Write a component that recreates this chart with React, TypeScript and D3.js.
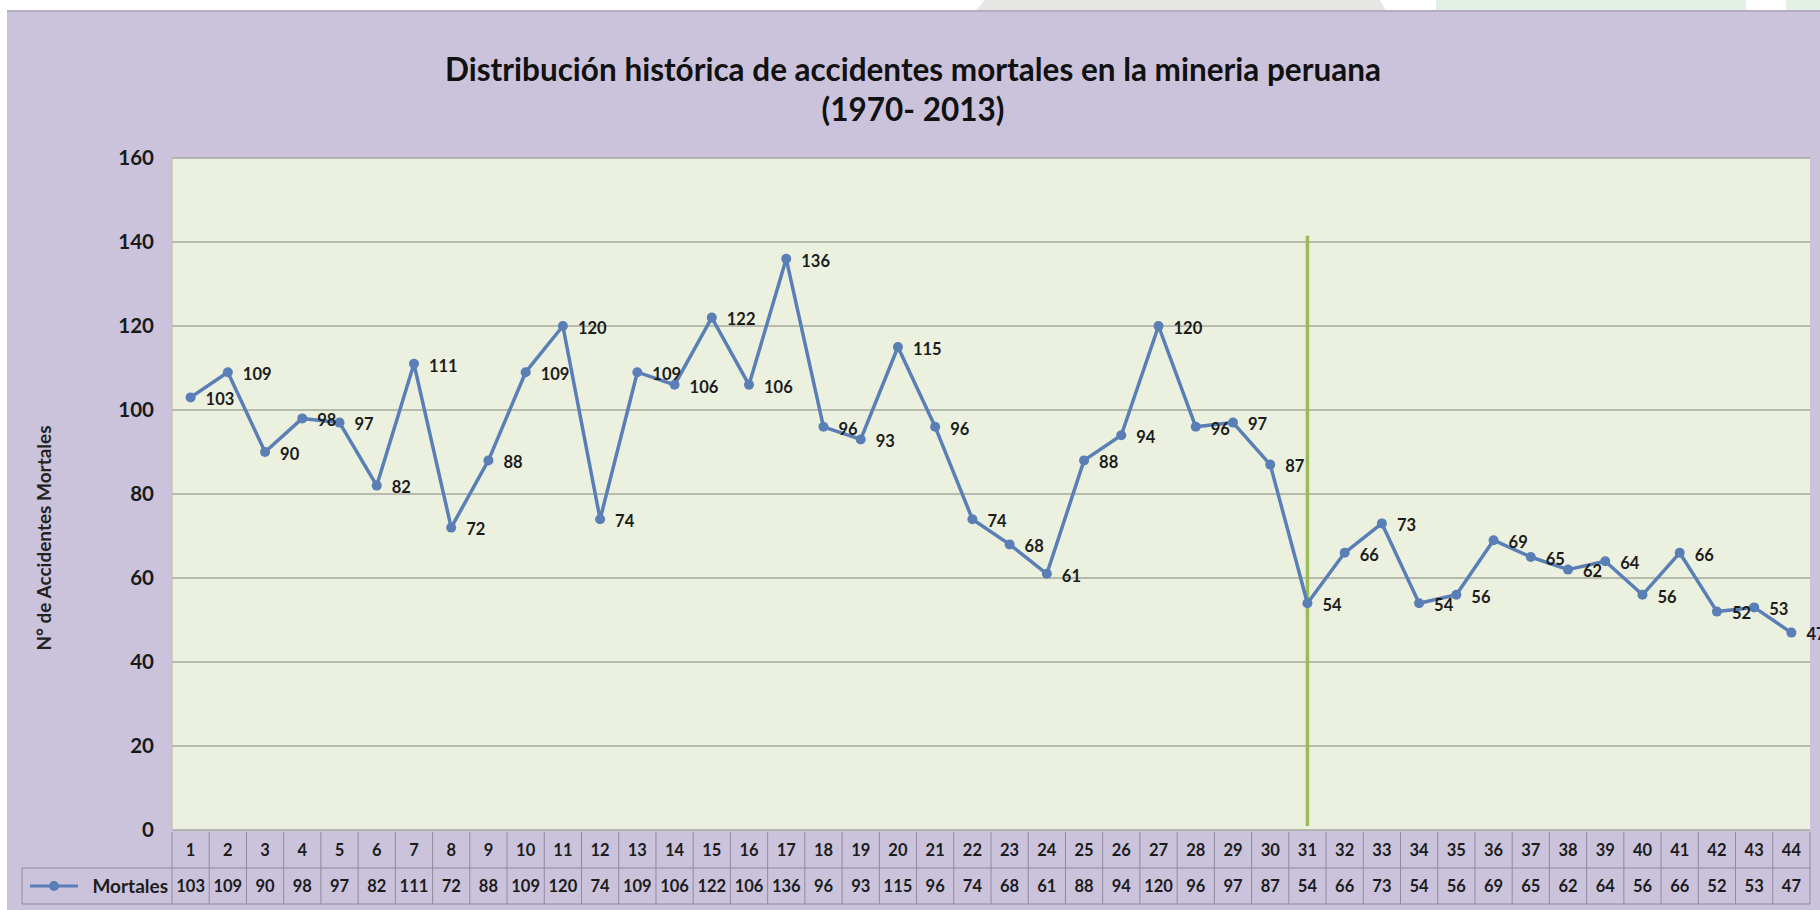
import React from "react";
import * as d3 from "d3";

// Datos del gráfico
const categories = [
  1, 2, 3, 4, 5, 6, 7, 8, 9, 10, 11, 12, 13, 14, 15, 16, 17, 18, 19, 20, 21, 22,
  23, 24, 25, 26, 27, 28, 29, 30, 31, 32, 33, 34, 35, 36, 37, 38, 39, 40, 41, 42,
  43, 44,
];
const mortales = [
  103, 109, 90, 98, 97, 82, 111, 72, 88, 109, 120, 74, 109, 106, 122, 106, 136,
  96, 93, 115, 96, 74, 68, 61, 88, 94, 120, 96, 97, 87, 54, 66, 73, 54, 56, 69,
  65, 62, 64, 56, 66, 52, 53, 47,
];
const yTicks = [0, 20, 40, 60, 80, 100, 120, 140, 160];
const seriesName = "Mortales";
const titleLines = [
  "Distribución histórica de accidentes mortales en la mineria peruana",
  "(1970- 2013)",
];
const yAxisTitle = "N° de Accidentes Mortales";
const markerCategory = 31;
const markerTopValue = 141.5;

const W = 1820;
const H = 910;
const FONT = "Lato, 'Open Sans', sans-serif";

const App = () => {
  const plot = { left: 172, right: 1810, top: 158, bottom: 830 };
  const rowH = 36;

  const x = d3
    .scaleBand<number>()
    .domain(categories)
    .range([plot.left, plot.right]);
  const y = d3.scaleLinear().domain([0, 160]).range([plot.bottom, plot.top]);
  const cx = (c: number) => (x(c) ?? 0) + x.bandwidth() / 2;

  const line = d3
    .line<number>()
    .x((_, i) => cx(categories[i]))
    .y((d) => y(d));

  const lineColor = "#5a7fb6";
  const tableTop = plot.bottom + 2;
  const row2Top = tableTop + rowH;
  const row2Bottom = row2Top + rowH;
  const legendLeft = 22;

  return (
    <svg
      width={W}
      height={H}
      style={{ position: "absolute", left: 0, top: 0, display: "block" }}
      fontFamily={FONT}
    >
      {/* fondo de la diapositiva */}
      <rect x={0} y={0} width={W} height={H} fill="#ffffff" />
      <polygon points="985,0 1380,0 1386,11 975,11" fill="#e6e6e4" />
      <rect x={1436} y={0} width={310} height={11} fill="#e2efe4" />
      <rect x={1786} y={0} width={34} height={11} fill="#e2efe4" />

      {/* marco del gráfico */}
      <rect x={7} y={10} width={W - 7} height={H - 10} fill="#cbc3dc" />
      <line x1={7} x2={W} y1={11} y2={11} stroke="#b4adc2" strokeWidth={2} />

      {/* título */}
      {titleLines.map((t, i) => (
        <text
          key={i}
          x={913}
          y={81 + i * 40}
          textAnchor="middle"
          fontSize={31.5}
          fontWeight={700}
          fill="#111111"
        >
          {t}
        </text>
      ))}

      {/* área de trazado */}
      <rect
        x={plot.left}
        y={plot.top}
        width={plot.right - plot.left}
        height={plot.bottom - plot.top}
        fill="#ebf1de"
      />
      {yTicks.map((t) => (
        <line
          key={t}
          x1={plot.left}
          x2={plot.right}
          y1={y(t)}
          y2={y(t)}
          stroke="#a4a99c"
          strokeWidth={1.6}
        />
      ))}
      <line
        x1={plot.left}
        x2={plot.left}
        y1={plot.top}
        y2={plot.bottom}
        stroke="#b8b8b0"
        strokeWidth={1}
      />

      {/* etiquetas del eje Y */}
      {yTicks.map((t) => (
        <text
          key={t}
          x={154}
          y={y(t)}
          dy="0.35em"
          textAnchor="end"
          fontSize={20.5}
          fontWeight={700}
          fill="#1a1a1a"
        >
          {t}
        </text>
      ))}
      <text
        transform={`translate(44,${538}) rotate(-90)`}
        textAnchor="middle"
        dy="0.35em"
        fontSize={19}
        fontWeight={700}
        fill="#222222"
      >
        {yAxisTitle}
      </text>

      {/* línea vertical de referencia */}
      <line
        x1={cx(markerCategory)}
        x2={cx(markerCategory)}
        y1={y(markerTopValue)}
        y2={plot.bottom - 4}
        stroke="#9bbb59"
        strokeWidth={3.5}
      />

      {/* serie */}
      <path
        d={line(mortales) ?? ""}
        fill="none"
        stroke={lineColor}
        strokeWidth={3.5}
        strokeLinejoin="round"
      />
      {mortales.map((v, i) => (
        <circle
          key={i}
          cx={cx(categories[i])}
          cy={y(v)}
          r={5}
          fill={lineColor}
        />
      ))}
      {mortales.map((v, i) => (
        <text
          key={i}
          x={cx(categories[i]) + 15}
          y={y(v) + 2}
          dy="0.35em"
          fontSize={16.5}
          fontWeight={700}
          fill="#1c1c1c"
        >
          {v}
        </text>
      ))}

      {/* tabla de datos */}
      <g stroke="#9089a0" strokeWidth={1} fill="none">
        <line x1={legendLeft} x2={plot.right} y1={row2Top} y2={row2Top} />
        <line x1={legendLeft} x2={plot.right} y1={row2Bottom} y2={row2Bottom} />
        <line x1={legendLeft} x2={legendLeft} y1={row2Top} y2={row2Bottom} />
        {categories.map((c) => (
          <line
            key={c}
            x1={x(c) ?? 0}
            x2={x(c) ?? 0}
            y1={tableTop}
            y2={row2Bottom}
          />
        ))}
        <line
          x1={plot.right}
          x2={plot.right}
          y1={tableTop}
          y2={row2Bottom}
        />
      </g>
      {categories.map((c) => (
        <text
          key={c}
          x={cx(c)}
          y={tableTop + rowH / 2}
          dy="0.35em"
          textAnchor="middle"
          fontSize={16.5}
          fontWeight={700}
          fill="#1c1c1c"
        >
          {c}
        </text>
      ))}
      {mortales.map((v, i) => (
        <text
          key={i}
          x={cx(categories[i])}
          y={row2Top + rowH / 2}
          dy="0.35em"
          textAnchor="middle"
          fontSize={16.5}
          fontWeight={700}
          fill="#1c1c1c"
        >
          {v}
        </text>
      ))}
      {/* leyenda en la tabla */}
      <line
        x1={legendLeft + 8}
        x2={legendLeft + 56}
        y1={row2Top + rowH / 2}
        y2={row2Top + rowH / 2}
        stroke={lineColor}
        strokeWidth={3}
      />
      <circle
        cx={legendLeft + 32}
        cy={row2Top + rowH / 2}
        r={5}
        fill={lineColor}
      />
      <text
        x={plot.left - 4}
        y={row2Top + rowH / 2}
        dy="0.35em"
        textAnchor="end"
        fontSize={19}
        fontWeight={700}
        fill="#1c1c1c"
      >
        {seriesName}
      </text>
    </svg>
  );
};

export default App;
